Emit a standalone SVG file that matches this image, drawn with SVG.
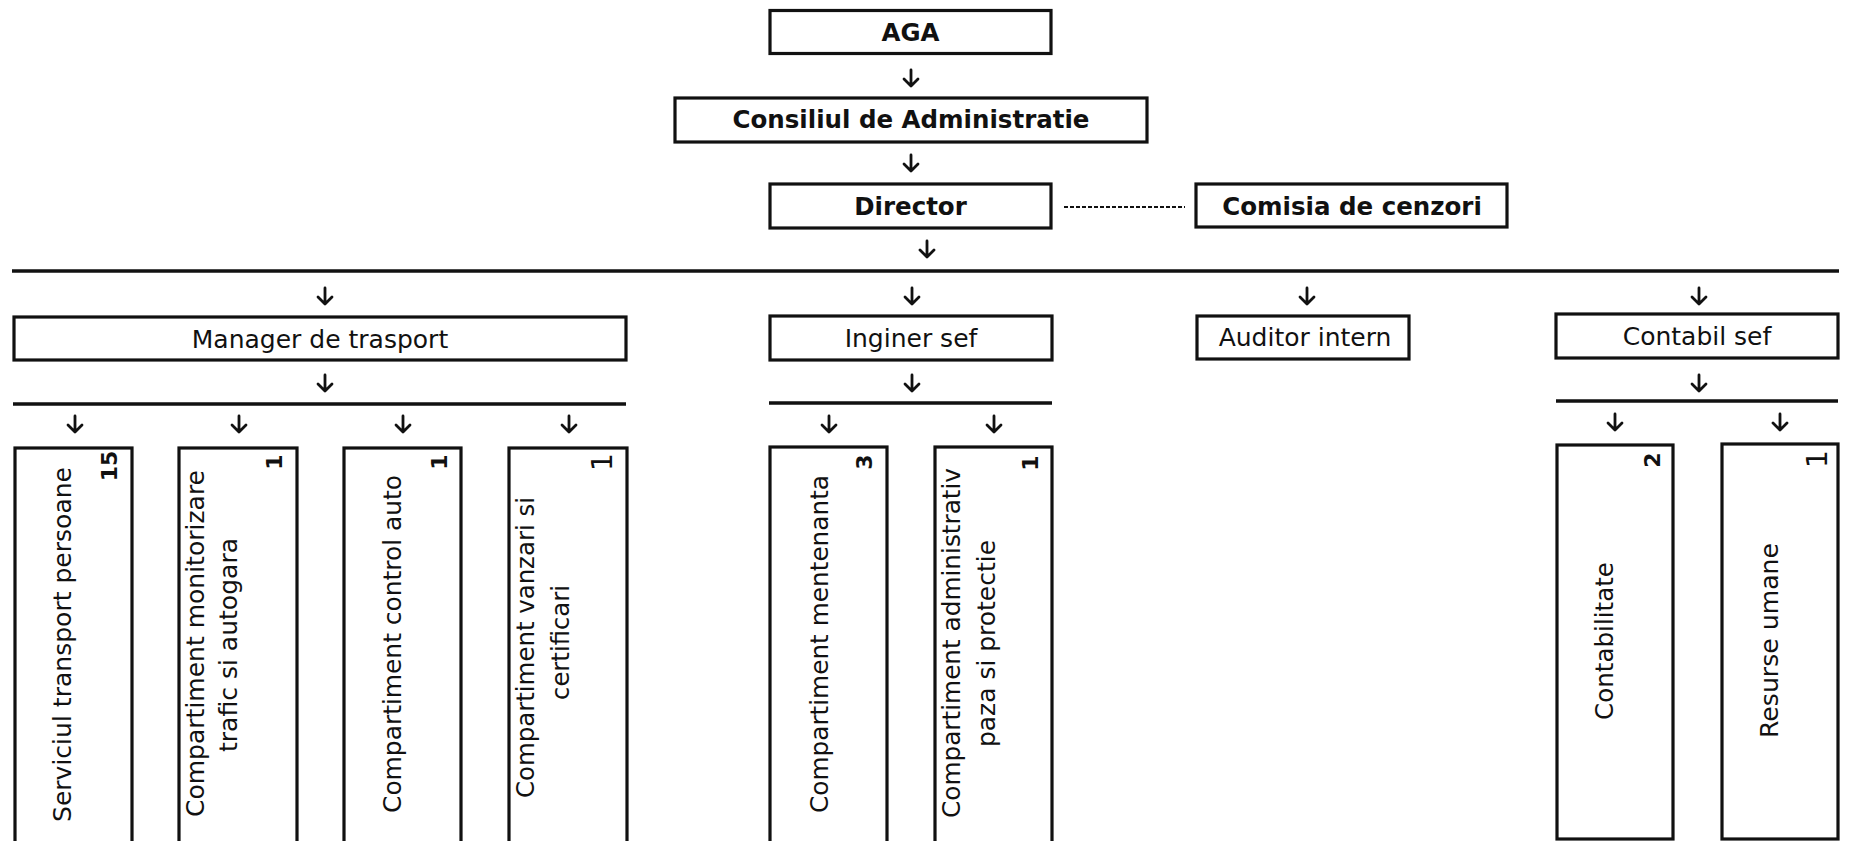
<svg xmlns="http://www.w3.org/2000/svg" xmlns:xlink="http://www.w3.org/1999/xlink" width="1850" height="841" viewBox="0 0 1850 841">
<style>
.box{fill:#fff;stroke:#111;stroke-width:3.2}
.ln{stroke:#111;stroke-width:3.4;fill:none}
.arr{stroke:#111;stroke-width:2.8;fill:none;stroke-linecap:round;stroke-linejoin:round}
text{font-family:"DejaVu Sans",Verdana,sans-serif;fill:#111}
.b{font-weight:bold;font-size:24.5px;text-anchor:middle}
.m{font-size:25px;text-anchor:middle}
.v{font-size:24px;text-anchor:middle}
.n{font-weight:bold;font-size:22px;text-anchor:middle}
.r{font-size:28px;text-anchor:middle}
</style>
<defs>
<path id="arr" class="arr" d="M0,-8 V8 M-7,1 L0,8 L7,1"/>
</defs>
<rect width="1850" height="841" fill="#fff"/>
<g id="connectors">
<use xlink:href="#arr" x="911" y="78"/>
<use xlink:href="#arr" x="911" y="163"/>
<use xlink:href="#arr" x="927" y="249"/>
<path class="ln" d="M1064,207 H1185" stroke-dasharray="4 2" style="stroke-width:2"/>
<path class="ln" d="M12,271 H1839"/>
<use xlink:href="#arr" x="325" y="296"/>
<use xlink:href="#arr" x="912" y="296"/>
<use xlink:href="#arr" x="1307" y="296"/>
<use xlink:href="#arr" x="1699" y="296"/>
<use xlink:href="#arr" x="325" y="383"/>
<use xlink:href="#arr" x="912" y="383"/>
<use xlink:href="#arr" x="1699" y="383"/>
<path class="ln" d="M13,404 H626"/>
<path class="ln" d="M769,403 H1052"/>
<path class="ln" d="M1556,401 H1838"/>
<use xlink:href="#arr" x="75" y="424"/>
<use xlink:href="#arr" x="239" y="424"/>
<use xlink:href="#arr" x="403" y="424"/>
<use xlink:href="#arr" x="569" y="424"/>
<use xlink:href="#arr" x="829" y="424"/>
<use xlink:href="#arr" x="994" y="424"/>
<use xlink:href="#arr" x="1615" y="422"/>
<use xlink:href="#arr" x="1780" y="422"/>
</g>
<g id="aga"><rect class="box" x="770" y="10.5" width="281" height="43"/><text class="b" x="910.5" y="41">AGA</text></g>
<g id="consiliu"><rect class="box" x="675" y="98" width="472" height="44"/><text class="b" x="911" y="128">Consiliul de Administratie</text></g>
<g id="director"><rect class="box" x="770" y="184" width="281" height="44"/><text class="b" x="910.5" y="215">Director</text></g>
<g id="comisia"><rect class="box" x="1196" y="184" width="311" height="43"/><text class="b" x="1352" y="215">Comisia de cenzori</text></g>
<g id="manager"><rect class="box" x="14" y="317" width="612" height="43"/><text class="m" x="320" y="348">Manager de trasport</text></g>
<g id="inginer"><rect class="box" x="770" y="316" width="282" height="44"/><text class="m" x="911" y="347">Inginer sef</text></g>
<g id="auditor"><rect class="box" x="1197" y="316" width="212" height="43"/><text class="m" x="1305" y="346">Auditor intern</text></g>
<g id="contabil"><rect class="box" x="1556" y="314" width="282" height="44"/><text class="m" x="1697" y="345">Contabil sef</text></g>
<g id="serviciu"><rect class="box" x="15" y="448" width="117" height="402"/>
<text class="v" transform="translate(70.5,644.5) rotate(-90)" textLength="355" lengthAdjust="spacingAndGlyphs">Serviciul transport persoane</text>
<text class="n" transform="translate(117,466) rotate(-90)">15</text></g>
<g id="monitorizare"><rect class="box" x="179" y="448" width="118" height="402"/>
<text class="v" transform="translate(203.5,643.5) rotate(-90)" textLength="347" lengthAdjust="spacingAndGlyphs">Compartiment monitorizare</text>
<text class="v" transform="translate(236.5,645) rotate(-90)" textLength="214" lengthAdjust="spacingAndGlyphs">trafic si autogara</text>
<text class="n" transform="translate(282,462) rotate(-90)">1</text></g>
<g id="control"><rect class="box" x="344" y="448" width="117" height="402"/>
<text class="v" transform="translate(401,644) rotate(-90)" textLength="338" lengthAdjust="spacingAndGlyphs">Compartiment control auto</text>
<text class="n" transform="translate(447,462) rotate(-90)">1</text></g>
<g id="vanzari"><rect class="box" x="509" y="448" width="118" height="402"/>
<text class="v" transform="translate(533.5,647.5) rotate(-90)" textLength="301" lengthAdjust="spacingAndGlyphs">Compartiment vanzari si</text>
<text class="v" transform="translate(569,642.5) rotate(-90)" textLength="115" lengthAdjust="spacingAndGlyphs">certificari</text>
<text class="r" transform="translate(612,462) rotate(-90)">1</text></g>
<g id="mentenanta"><rect class="box" x="770" y="447" width="117" height="403"/>
<text class="v" transform="translate(827.5,644) rotate(-90)" textLength="338" lengthAdjust="spacingAndGlyphs">Compartiment mentenanta</text>
<text class="n" transform="translate(872,462) rotate(-90)">3</text></g>
<g id="administrativ"><rect class="box" x="935" y="447" width="117" height="403"/>
<text class="v" transform="translate(959.5,643) rotate(-90)" textLength="350" lengthAdjust="spacingAndGlyphs">Compartiment administrativ</text>
<text class="v" transform="translate(995,643.5) rotate(-90)" textLength="207" lengthAdjust="spacingAndGlyphs">paza si protectie</text>
<text class="n" transform="translate(1038,463) rotate(-90)">1</text></g>
<g id="contabilitate"><rect class="box" x="1557" y="445" width="116" height="394"/>
<text class="v" transform="translate(1612.5,641) rotate(-90)" textLength="158" lengthAdjust="spacingAndGlyphs">Contabilitate</text>
<text class="n" transform="translate(1660,460) rotate(-90)">2</text></g>
<g id="resurse"><rect class="box" x="1722" y="444" width="116" height="395"/>
<text class="v" transform="translate(1777.5,640.5) rotate(-90)" textLength="195" lengthAdjust="spacingAndGlyphs">Resurse umane</text>
<text class="r" transform="translate(1827,459) rotate(-90)">1</text></g>
</svg>
